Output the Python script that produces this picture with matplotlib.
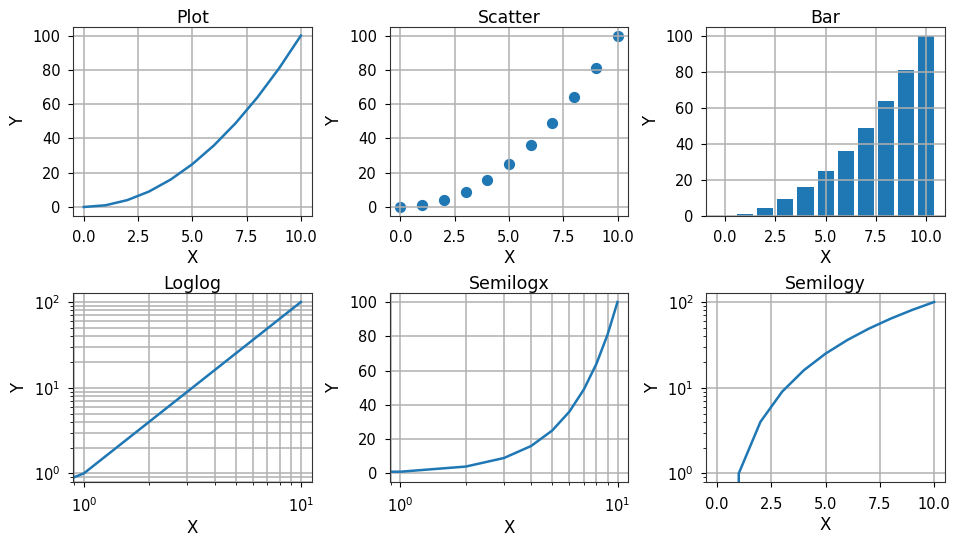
import numpy as np
import matplotlib.pyplot as plt

x = [0, 1, 2, 3, 4, 5, 6, 7, 8, 9, 10]
y = [0, 1, 4, 9, 16, 25, 36, 49, 64, 81, 100]
titles = ["Plot", "Scatter", "Bar", "Loglog", "Semilogx", "Semilogy"]

plt.rcParams['font.size'] = 10.5
plt.rcParams['axes.titlesize'] = 12.5
plt.rcParams['axes.labelsize'] = 12
plt.rcParams['grid.linewidth'] = 1.1
plt.rcParams['axes.edgecolor'] = '#333333'
plt.rcParams['xtick.major.pad'] = 7
plt.rcParams['ytick.major.pad'] = 5.5

fig, axs = plt.subplots(2, 3, figsize=(9.55, 5.38), dpi=100)
axs = axs.flatten()

axs[0].plot(x, y, lw=1.8)
axs[0].grid(True)

axs[1].scatter(x, y, s=50)
axs[1].grid(True)

axs[2].bar(x, y)
axs[2].grid(True)

axs[3].loglog(x, y, lw=1.8)
axs[3].grid(True, which='both')

axs[4].semilogx(x, y, lw=1.8)
axs[4].grid(True, which='both')

axs[5].semilogy(x, y, lw=1.8)
axs[5].grid(True)

for ax, t in zip(axs, titles):
    ax.set_title(t, pad=3)
    ax.set_xlabel("X", labelpad=3)
    ax.set_ylabel("Y")

# axes placed to match the reference layout
fig.subplots_adjust(left=0.0764, right=0.9895, top=0.9498, bottom=0.1041,
                    wspace=0.326, hspace=0.413)
fig.savefig("out.png")
